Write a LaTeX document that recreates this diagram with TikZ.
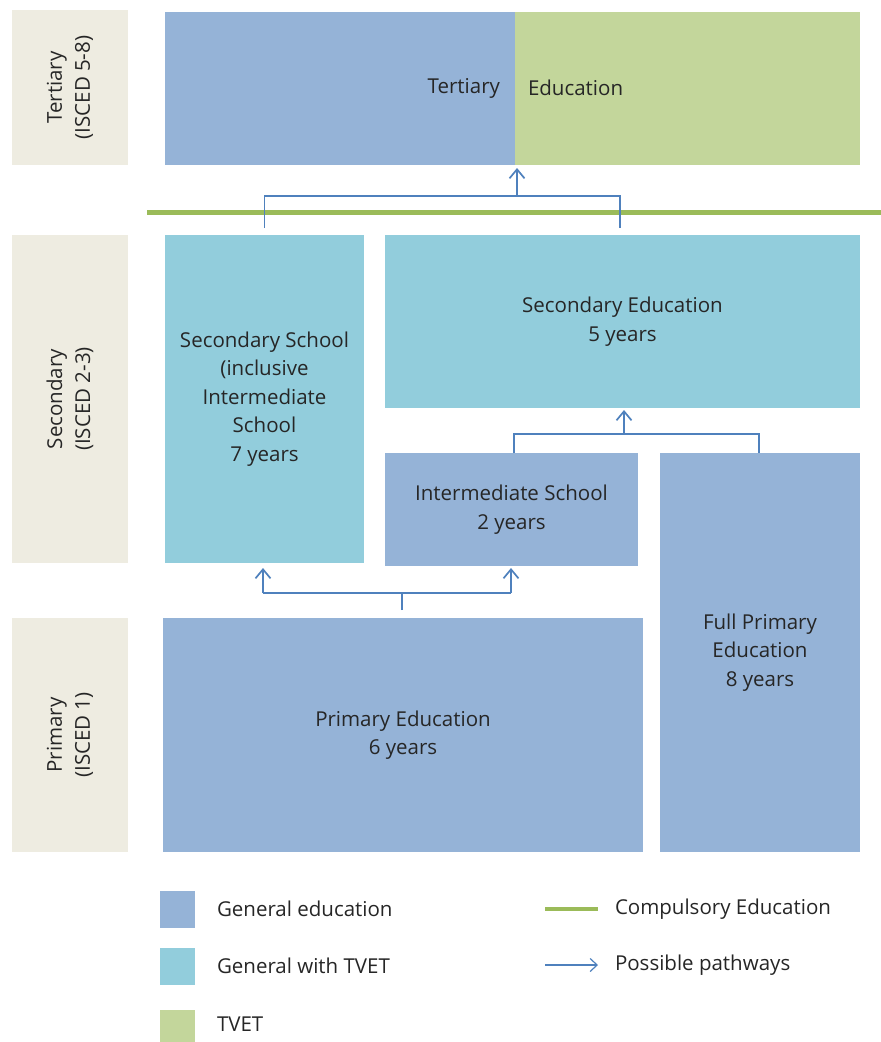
\documentclass[tikz,border=0pt]{standalone}
\usepackage{fontspec}
\setmainfont{Open Sans}
\usetikzlibrary{arrows.meta}
\definecolor{genblue}{HTML}{95B3D7}
\definecolor{tvetcyan}{HTML}{92CDDC}
\definecolor{tvetgreen}{HTML}{C3D69B}
\definecolor{labbg}{HTML}{EEECE1}
\definecolor{compgreen}{HTML}{9BBB59}
\definecolor{pathblue}{HTML}{4F81BD}
\definecolor{txt}{HTML}{262626}
\tikzset{
  box/.style={inner sep=0pt, outer sep=0pt, align=center, text=txt,
    font=\fontsize{20.5}{28.5}\selectfont},
  lab/.style={box, fill=labbg},
  gen/.style={box, fill=genblue},
  gwt/.style={box, fill=tvetcyan},
  tv/.style={box, fill=tvetgreen},
  txtnode/.style={inner sep=0pt, outer sep=0pt, text=txt, font=\fontsize{20.5}{28}\selectfont},
  path/.style={draw=pathblue, line width=1.7pt},
  patharrow/.style={path, -{Straight Barb[length=9pt,width=15pt,line width=1.7pt]}},
  comp/.style={draw=compgreen, line width=5pt},
}
\begin{document}
\begin{tikzpicture}[x=1pt,y=-1pt]
\useasboundingbox (0,0) rectangle (881,1042);
% level labels
\node[lab, minimum width=116pt, minimum height=155pt] (l1) at (70,87.5) {};
\node[txtnode, rotate=90, align=center] (l1t) at (l1.center) {Tertiary\\(ISCED 5-8)};
\node[lab, minimum width=116pt, minimum height=328pt] (l2) at (70,399) {};
\node[txtnode, rotate=90, align=center] (l2t) at (l2.center) {Secondary\\(ISCED 2-3)};
\node[lab, minimum width=116pt, minimum height=234pt] (l3) at (70,735) {};
\node[txtnode, rotate=90, align=center] (l3t) at (l3.center) {Primary\\(ISCED 1)};
% tertiary
\node[gen, minimum width=350pt, minimum height=153pt] (tb) at (340,88.5) {};
\node[tv, minimum width=345pt, minimum height=153pt] (tg) at (687.5,88.5) {};
\node[txtnode, anchor=east] (tt1) at (500,88) {Tertiary};
\node[txtnode, anchor=west] (tt2) at (528,88) {Education};
% compulsory line
\coordinate (cl1) at (147,212);
\coordinate (cl2) at (881,212);
\draw[comp] (cl1) -- (cl2);
% secondary
\node[gwt, minimum width=199pt, minimum height=328pt] (ss) at (264.5,399) {Secondary School\\(inclusive\\Intermediate\\School\\7 years};
\node[gwt, minimum width=475pt, minimum height=173pt] (se) at (622.5,321.5) {Secondary Education\\5 years};
\node[gen, minimum width=253pt, minimum height=113pt] (im) at (511.5,509.5) {Intermediate School\\2 years};
\node[gen, minimum width=200pt, minimum height=399pt] (fp) at (760,652.5) {Full Primary\\Education\\8 years};
\node[gen, minimum width=480pt, minimum height=234pt] (pe) at (403,735) {Primary Education\\6 years};
% pathways top
\coordinate (j1) at (517,196);
\draw[path] ([yshift=7pt]ss.north) |- (j1) -| ([xshift=-2.5pt,yshift=7pt]se.north);
\draw[patharrow] (j1) -- ([yshift=-3pt]j1 |- tg.south);
% pathways middle
\coordinate (j2) at (624,434);
\draw[path] ([xshift=2.5pt]im.north) |- (j2) -| ([xshift=-1pt]fp.north);
\draw[patharrow] (j2) -- ([yshift=-2pt]j2 |- se.south);
% pathways bottom
\coordinate (j3) at (402,593);
\coordinate (j3l) at (263,593);
\coordinate (j3r) at (511,593);
\draw[path] ([yshift=8pt]j3 |- pe.north) -- (j3);
\draw[path] (j3l) -- (j3r);
\draw[patharrow] (j3l) -- ([yshift=-5pt]j3l |- ss.south);
\draw[patharrow] (j3r) -- ([yshift=-2pt]j3r |- im.south);
% legend
\node[gen, minimum width=35pt, minimum height=37pt] (lg1) at (177.5,909.5) {};
\node[txtnode, anchor=west] (lg1t) at (217,909) {General education};
\node[gwt, minimum width=35pt, minimum height=37pt] (lg2) at (177.5,966.5) {};
\node[txtnode, anchor=west] (lg2t) at (217,966) {General with TVET};
\node[tv, minimum width=35pt, minimum height=37pt] (lg3) at (177.5,1028.5) {};
\node[txtnode, anchor=west] (lg3t) at (217,1024) {TVET};
\coordinate (lc1) at (545,909);
\coordinate (lc2) at (598,909);
\draw[draw=compgreen, line width=4pt] (lc1) -- (lc2);
\node[txtnode, anchor=west] (lct) at (615,909) {Compulsory Education};
\coordinate (la1) at (545,965);
\coordinate (la2) at (598,965);
\draw[path, line width=1.2pt, -{Straight Barb[length=7pt,width=13pt,line width=1.2pt]}] (la1) -- (la2);
\node[txtnode, anchor=west] (lat) at (615,965) {Possible pathways};
\end{tikzpicture}
\end{document}
